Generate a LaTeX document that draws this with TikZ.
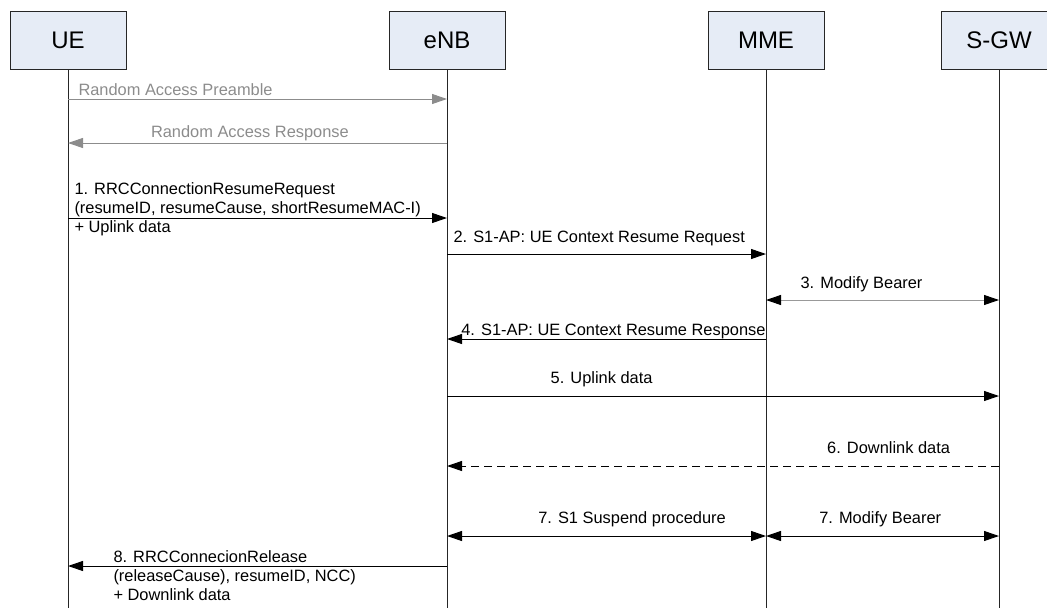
\documentclass[tikz,border=0pt]{standalone}
\usepackage{fontspec}
\setmainfont{Liberation Sans}
\usepackage{tikz}
\usetikzlibrary{positioning, arrows.meta, calc}
\definecolor{boxfill}{HTML}{E6ECF6}
\definecolor{ragray}{HTML}{8C8C8C}
\tikzset{
  actor/.style   ={draw=black!85, fill=boxfill, rectangle, line width=1pt,
                   minimum width=116pt, minimum height=58pt,
                   font=\fontsize{24}{28}\selectfont},
  lifeline/.style={line width=1pt, black!85},
  msg/.style     ={line width=1pt, -{Triangle[length=15pt, width=10pt]}},
  bimsg/.style   ={line width=1pt,
                   {Triangle[length=15pt, width=10pt, color=black]}-{Triangle[length=15pt, width=10pt, color=black]}},
  lbl/.style     ={inner sep=0pt, align=left, font=\fontsize{16.4}{19}\selectfont}
}

\begin{document}
\begin{tikzpicture}[x=1pt, y=-1pt]
  \useasboundingbox (0,0) rectangle (1047,608);

  % entities
  \node[actor] (ue)  at (68,40)  {UE};
  \node[actor] (enb) at (447,40) {eNB};
  \node[actor] (mme) at (766,40) {MME};
  \node[actor] (sgw) at (999,40) {S-GW};
  \coordinate (bottom) at (0,608);

  % lifelines
  \foreach \n in {ue, enb, mme, sgw}
    \draw[lifeline] (\n.south) -- (\n.south |- bottom);

  % message rows
  \coordinate (rap) at (0,99);
  \coordinate (rar) at (0,143);
  \coordinate (m1)  at (0,218);
  \coordinate (m2)  at (0,254);
  \coordinate (m3)  at (0,300);
  \coordinate (m4)  at (0,339);
  \coordinate (m5)  at (0,396);
  \coordinate (m6)  at (0,466);
  \coordinate (m7)  at (0,536);
  \coordinate (m8)  at (0,566);

  % random access
  \draw[msg, ragray] (ue |- rap) -- node[lbl, pos=0, anchor=base west, xshift=10pt, yshift=4pt, text=ragray]
    {Random Access Preamble} (enb |- rap);
  \draw[msg, ragray] (enb |- rar) -- node[lbl, pos=0.52, anchor=base, yshift=6pt, text=ragray]
    {Random Access Response} (ue |- rar);

  % 1. resume request
  \draw[msg] (ue |- m1) -- node[lbl, pos=0, anchor=north west, xshift=6pt, yshift=36pt]
    {1. RRCConnectionResumeRequest\\(resumeID, resumeCause, shortResumeMAC-I)\\+ Uplink data} (enb |- m1);
  % 2. context resume request
  \draw[msg] (enb |- m2) -- node[lbl, pos=0, anchor=base west, xshift=6pt, yshift=12pt]
    {2. S1-AP: UE Context Resume Request} (mme |- m2);
  % 3. modify bearer
  \draw[bimsg, draw=black!40] (mme |- m3) -- node[lbl, pos=0.41, anchor=base, yshift=12pt]
    {3. Modify Bearer} (sgw |- m3);
  % 4. context resume response
  \draw[msg] (mme |- m4) -- node[lbl, pos=0, anchor=base east, yshift=4pt]
    {4. S1-AP: UE Context Resume Response} (enb |- m4);
  % 5. uplink data
  \draw[msg] (enb |- m5) -- node[lbl, pos=0.28, anchor=base, yshift=13pt]
    {5. Uplink data} (sgw |- m5);
  % 6. downlink data
  \draw[msg, dash pattern=on 8pt off 5pt] (sgw |- m6) -- node[lbl, pos=0.2, anchor=base, yshift=13pt]
    {6. Downlink data} (enb |- m6);
  % 7. suspend
  \draw[bimsg] (enb |- m7) -- node[lbl, pos=0.58, anchor=base, yshift=13pt]
    {7. S1 Suspend procedure} (mme |- m7);
  \draw[bimsg] (mme |- m7) -- node[lbl, pos=0.49, anchor=base, yshift=13pt]
    {7. Modify Bearer} (sgw |- m7);
  % 8. release
  \draw[msg] (enb |- m8) -- node[lbl, pos=1, anchor=north west, xshift=45pt, yshift=16pt]
    {8. RRCConnecionRelease\\(releaseCause), resumeID, NCC)\\+ Downlink data} (ue |- m8);
\end{tikzpicture}
\end{document}
